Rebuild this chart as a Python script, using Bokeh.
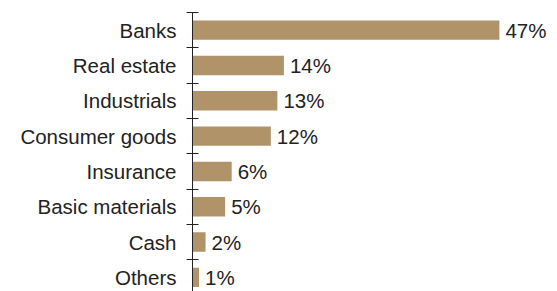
from bokeh.plotting import figure
from bokeh.models import ColumnDataSource, FixedTicker, Range1d, LinearAxis
from bokeh.embed import file_html
from bokeh.resources import INLINE
from bokeh.core.properties import value

categories = ["Banks", "Real estate", "Industrials", "Consumer goods",
              "Insurance", "Basic materials", "Cash", "Others"]
values = [47, 14, 13, 12, 6, 5, 2, 1]
value_labels = ["47%", "14%", "13%", "12%", "6%", "5%", "2%", "1%"]

n = len(categories)
ypos = [n - 1 - i for i in range(n)]
src = ColumnDataSource(dict(y=ypos, v=values, lab=value_labels))

FONT = "Liberation Sans"
TXT = "#222222"
BAR = "#B09369"
FS = "20.5px"

p = figure(width=557, height=291, output_backend="svg", toolbar_location=None,
           x_range=Range1d(0, 55.9), y_range=Range1d(-0.4, n - 0.5),
           x_axis_type=None, y_axis_type=None, min_border_left=0,
           min_border_right=0, min_border_top=12, min_border_bottom=0)
p.outline_line_color = None
p.grid.visible = False
p.background_fill_color = "white"
p.border_fill_color = "white"

p.hbar(y="y", right="v", left=0, height=0.55, source=src,
       fill_color=BAR, line_color=None)
p.text(x="v", y="y", text="lab", source=src, x_offset=6,
       text_baseline="middle", text_align="left",
       text_font=value(FONT), text_font_size=FS, text_color=TXT)

# axis line with ticks at category boundaries (closest to the frame)
bounds = [k + 0.5 for k in range(-1, n)]
tick_axis = LinearAxis(ticker=FixedTicker(ticks=bounds, minor_ticks=[]),
                       major_label_overrides={b: "" for b in bounds},
                       major_label_text_font_size="0px",
                       major_label_standoff=0,
                       major_tick_in=6, major_tick_out=6,
                       major_tick_line_color="#222222",
                       minor_tick_line_color=None,
                       axis_line_color="#222222")

# category names at bar centres (further left, no line or ticks)
label_axis = LinearAxis(ticker=FixedTicker(ticks=ypos, minor_ticks=[]),
                        major_label_overrides={y: c for y, c in zip(ypos, categories)},
                        major_label_standoff=10,
                        major_tick_in=0, major_tick_out=0,
                        minor_tick_line_color=None,
                        axis_line_color=None,
                        major_label_text_font=FONT,
                        major_label_text_font_size=FS,
                        major_label_text_color=TXT)

p.add_layout(tick_axis, "left")
p.add_layout(label_axis, "left")
p.min_border_left = 192

open("out.html", "w").write(file_html(p, INLINE))
